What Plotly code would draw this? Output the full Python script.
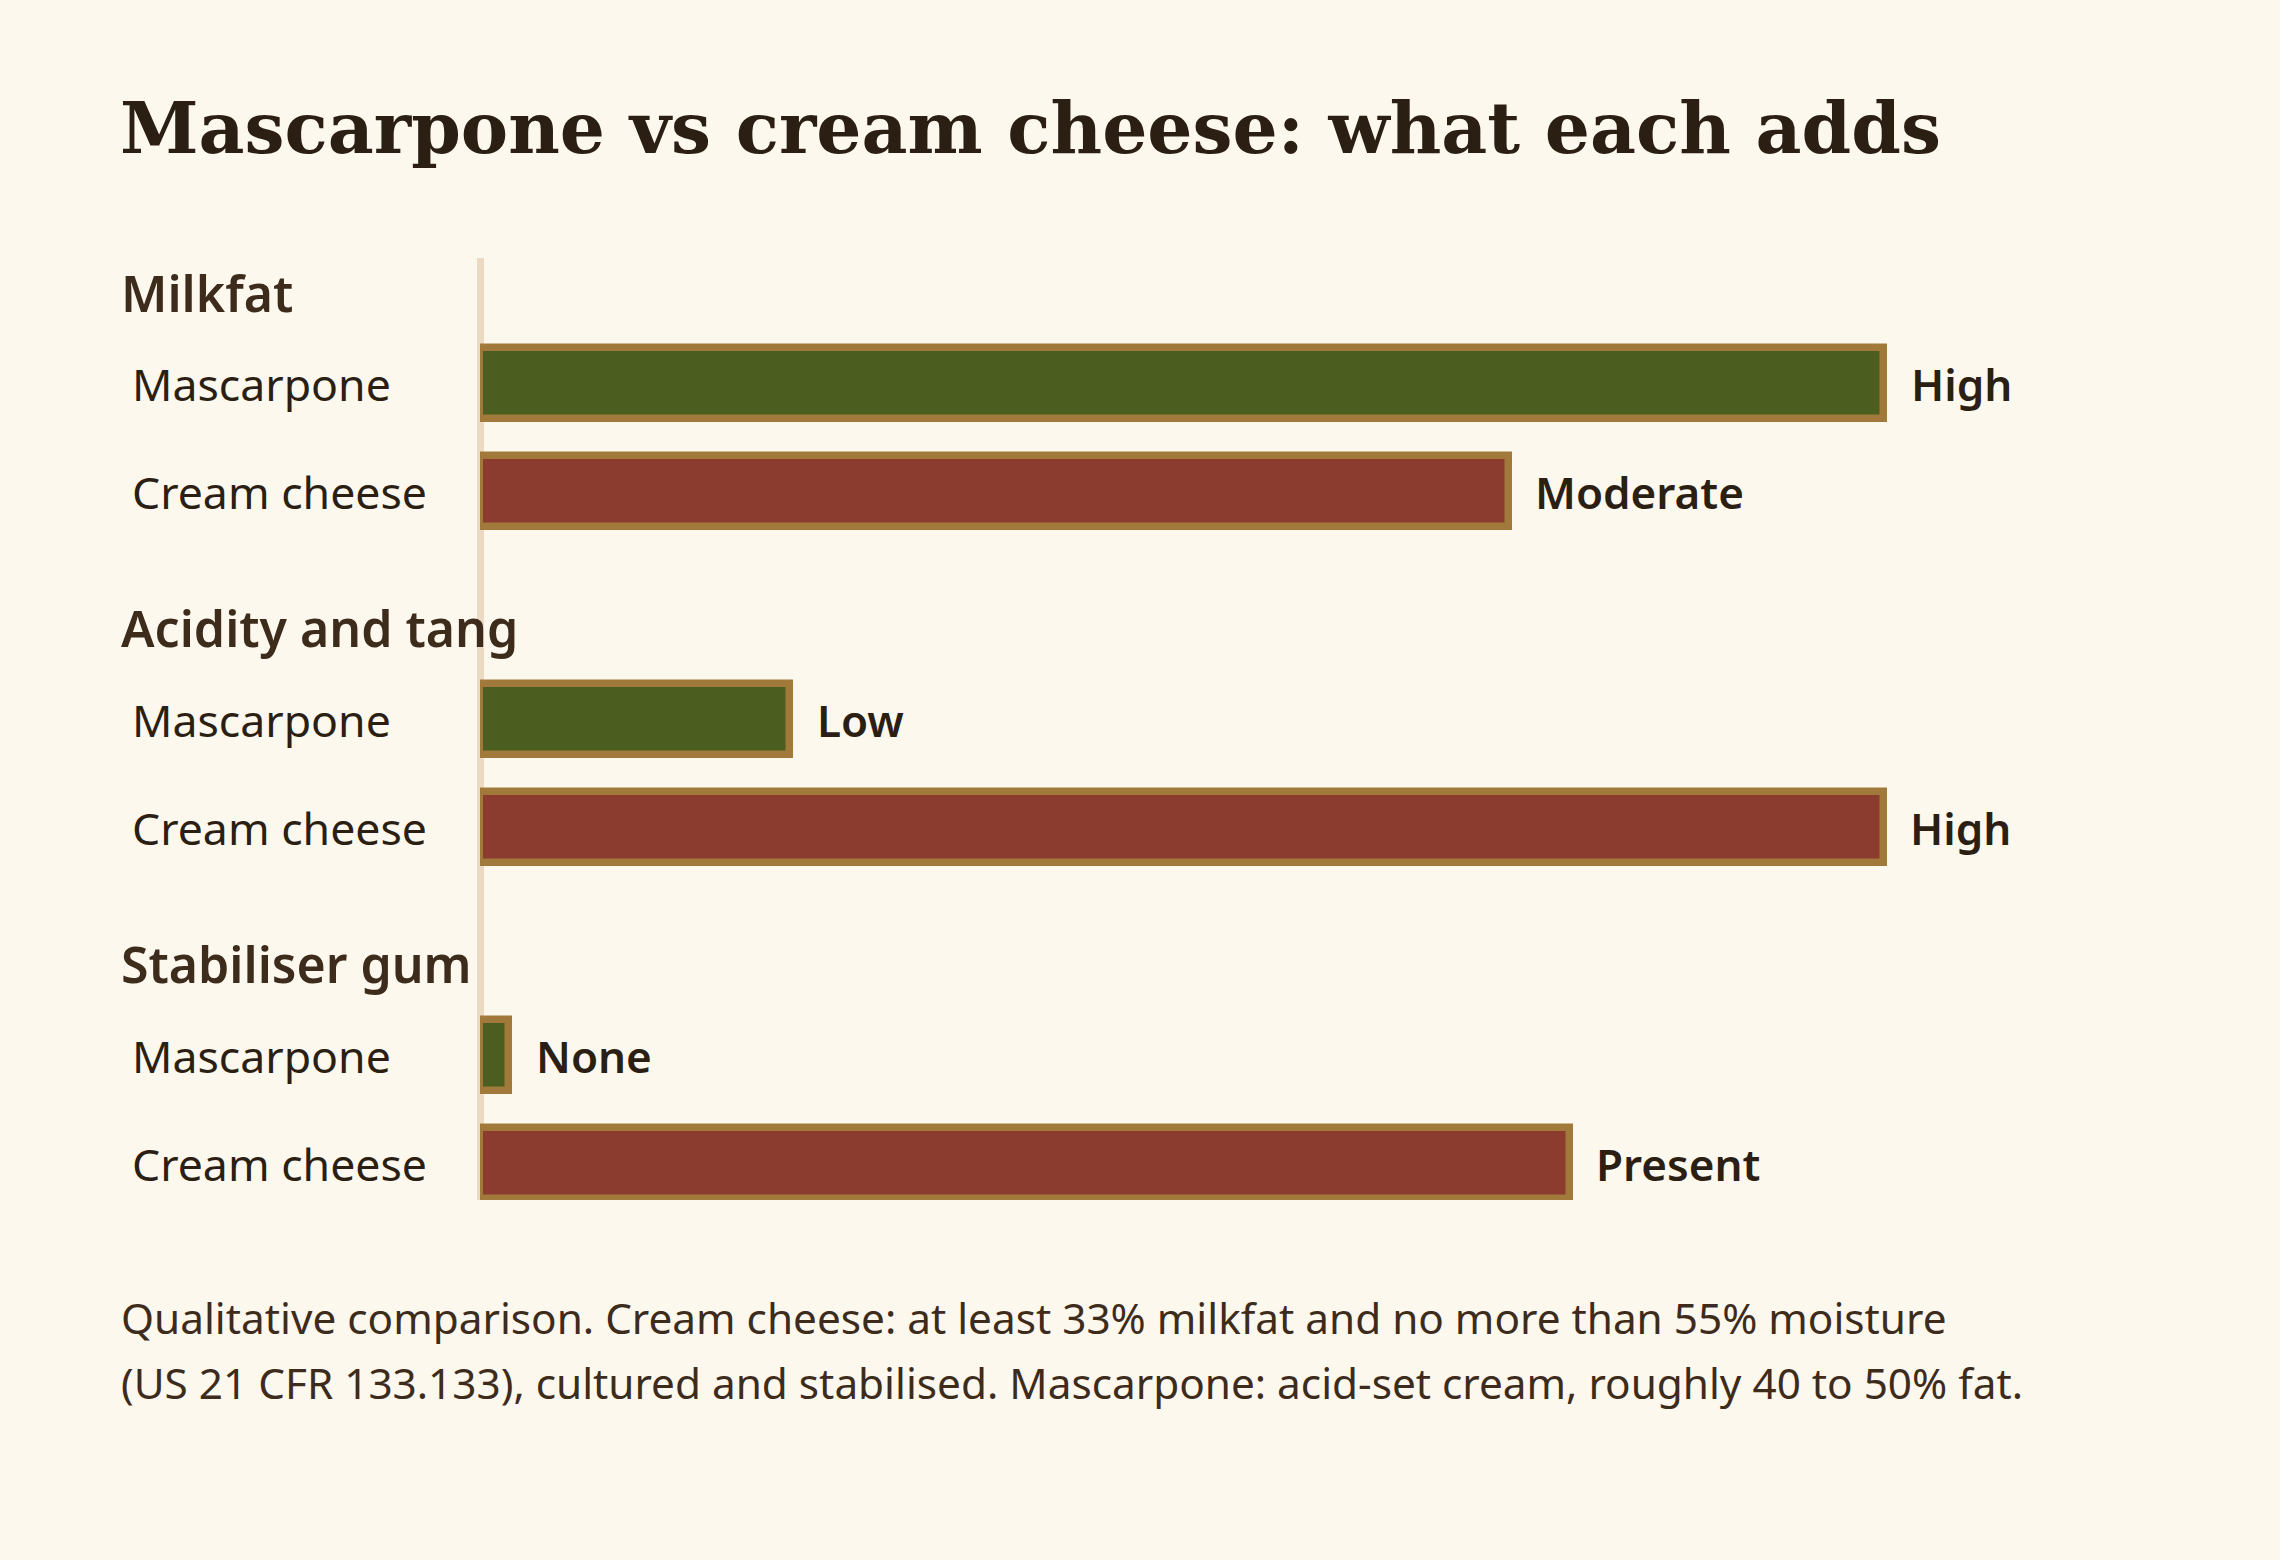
import plotly.graph_objects as go

# ---- data ----
categories = ["Milkfat", "Acidity and tang", "Stabiliser gum"]
products = ["Mascarpone", "Cream cheese"]
mascarpone_scores = [1.0, 0.221, 0.021]
cream_cheese_scores = [0.733, 1.0, 0.776]
mascarpone_labels = ["High", "Low", "None"]
cream_cheese_labels = ["Moderate", "High", "Present"]
title_text = "Mascarpone vs cream cheese: what each adds"
footnote_lines = [
    "Qualitative comparison. Cream cheese: at least 33% milkfat and no more than 55% moisture",
    "(US 21 CFR 133.133), cultured and stabilised. Mascarpone: acid-set cream, roughly 40 to 50% fat.",
]

# ---- layout constants ----
FIG_W, FIG_H = 2280, 1560
L, R, T, B = 480, 115, 258, 360
PW = FIG_W - L - R
PH = FIG_H - T - B
GROUP_STEP = 3.11
HEADER_OFFSET = 0.845
Y_TOP, Y_BOTTOM = -1.165, 7.557

BG = "#fdf8ee"
GREEN = "#4b5e1f"
RED = "#8b3c2f"
BORDER = "#a17a3b"
AXIS = "#ebdac1"
DARK = "#2b1f14"
BROWN = "#3d2c1c"
SANS = "Noto Sans, Open Sans, sans-serif"
SERIF = "DejaVu Serif, serif"


def px_x(px):
    return (px - L) / PW


def px_y(py):
    return (FIG_H - B - py) / PH


masc_y = [g * GROUP_STEP for g in range(len(categories))]
cream_y = [g * GROUP_STEP + 1 for g in range(len(categories))]

fig = go.Figure()
fig.add_trace(go.Bar(
    x=mascarpone_scores, y=masc_y, orientation="h", width=0.66,
    marker=dict(color=GREEN, line=dict(color=BORDER, width=7.5)),
    hoverinfo="skip", showlegend=False, name=products[0],
))
fig.add_trace(go.Bar(
    x=cream_cheese_scores, y=cream_y, orientation="h", width=0.66,
    marker=dict(color=RED, line=dict(color=BORDER, width=7.5)),
    hoverinfo="skip", showlegend=False, name=products[1],
))

annotations = []
# title
annotations.append(dict(
    text=f"<b>{title_text}</b>", xref="paper", yref="paper",
    x=px_x(118), y=px_y(128), xanchor="left", yanchor="middle",
    showarrow=False, font=dict(family=SERIF, size=71, color=DARK),
))
for g, cat in enumerate(categories):
    annotations.append(dict(
        text=cat, xref="paper", yref="y", x=px_x(119),
        y=masc_y[g] - HEADER_OFFSET, xanchor="left", yanchor="middle",
        showarrow=False, font=dict(family=SANS, size=50, color=BROWN, weight=600),
    ))
    for yy, prod in [(masc_y[g], products[0]), (cream_y[g], products[1])]:
        annotations.append(dict(
            text=prod, xref="paper", yref="y", x=px_x(130), y=yy,
            xanchor="left", yanchor="middle", showarrow=False,
            font=dict(family=SANS, size=44.6, color=DARK),
        ))
    annotations.append(dict(
        text=mascarpone_labels[g], xref="x", yref="y", x=mascarpone_scores[g],
        y=masc_y[g], xanchor="left", yanchor="middle", xshift=25,
        showarrow=False, font=dict(family=SANS, size=44, color=DARK, weight=600),
    ))
    annotations.append(dict(
        text=cream_cheese_labels[g], xref="x", yref="y", x=cream_cheese_scores[g],
        y=cream_y[g], xanchor="left", yanchor="middle", xshift=24,
        showarrow=False, font=dict(family=SANS, size=44, color=DARK, weight=600),
    ))

for i, line in enumerate(footnote_lines):
    annotations.append(dict(
        text=line, xref="paper", yref="paper", x=px_x(119),
        y=px_y(1317 + 65 * i), xanchor="left", yanchor="middle",
        showarrow=False, font=dict(family=SANS, size=42.3, color=BROWN),
    ))

fig.update_layout(
    width=FIG_W, height=FIG_H,
    margin=dict(l=L, r=R, t=T, b=B, pad=0),
    paper_bgcolor=BG, plot_bgcolor=BG,
    annotations=annotations,
    xaxis=dict(range=[0, 1.2], showgrid=False, showticklabels=False,
               zeroline=True, zerolinecolor=AXIS, zerolinewidth=7,
               showline=False, fixedrange=True),
    yaxis=dict(range=[Y_BOTTOM, Y_TOP], showgrid=False, showticklabels=False,
               zeroline=False, showline=False, fixedrange=True),
    bargap=0,
)

fig.write_html("out.html", config={"displayModeBar": False})
